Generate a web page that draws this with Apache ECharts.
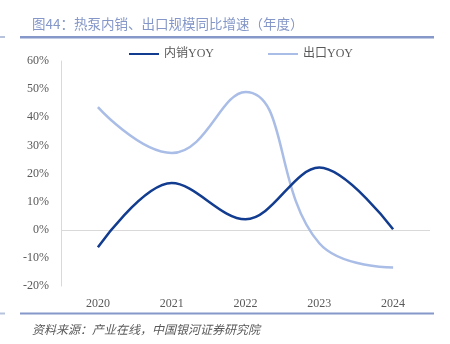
<!DOCTYPE html>
<html>
<head>
<meta charset="utf-8">
<script src="https://cdn.jsdelivr.net/npm/echarts@6/dist/echarts.min.js"></script>
<style>
  html, body { margin: 0; padding: 0; background: #ffffff; }
  #chart { width: 450px; height: 344px; }
</style>
</head>
<body>
<div id="chart"></div>
<script>
// 年度同比增速（%）
const years = ['2020', '2021', '2022', '2023', '2024'];
const domesticYoY = [-6.2, 16.6, 3.7, 22.1, 0.2];
const exportYoY = [43.6, 27.3, 49.0, -4.8, -13.4];
const seriesNames = ['内销YOY', '出口YOY'];
const titleText = '图44：热泵内销、出口规模同比增速（年度）';
const sourceText = '资料来源：产业在线，中国银河证券研究院';

const numFont = '"Liberation Serif", "Noto Sans CJK SC", serif';
const accent = '#8598c9';

const chart = echarts.init(document.getElementById('chart'), null, { renderer: 'canvas' });

chart.setOption({
  animation: false,
  backgroundColor: '#ffffff',
  graphic: [
    { type: 'text', left: 32, top: 17, style: { text: titleText, fill: '#8497c8', font: '13.5px "Noto Sans CJK SC", sans-serif' } },
    { type: 'rect', shape: { x: 20, y: 36, width: 414, height: 2.5 }, style: { fill: accent } },
    { type: 'rect', shape: { x: 0, y: 36, width: 5, height: 2 }, style: { fill: '#b7c2dc' } },
    { type: 'rect', shape: { x: 20, y: 312.5, width: 414, height: 2 }, style: { fill: accent } },
    { type: 'rect', shape: { x: 0, y: 312.5, width: 5, height: 2 }, style: { fill: '#b7c2dc' } },
    { type: 'text', left: 32, top: 323, style: { text: sourceText, fill: '#595959', font: 'italic 12px "Noto Sans CJK SC", sans-serif' } }
  ],
  legend: {
    top: 48,
    left: 129,
    padding: 0,
    itemGap: 54,
    itemWidth: 30,
    itemHeight: 10,
    icon: 'path://M0,4 L30,4 L30,6 L0,6 Z',
    textStyle: { color: '#595959', fontSize: 12, fontFamily: numFont },
    data: seriesNames
  },
  grid: { left: 61, right: 20, top: 61, bottom: 58, containLabel: false },
  xAxis: {
    type: 'category',
    data: years,
    boundaryGap: true,
    axisLine: { show: false, onZero: false },
    axisTick: { show: false },
    axisLabel: { color: '#595959', fontSize: 12, fontFamily: numFont, margin: 12 }
  },
  yAxis: {
    type: 'value',
    min: -20,
    max: 60,
    interval: 10,
    axisLine: { show: true, lineStyle: { color: '#d9d9d9', width: 1 } },
    axisTick: { show: false },
    splitLine: { show: false },
    axisLabel: {
      color: '#595959', fontSize: 12, fontFamily: numFont, margin: 12,
      formatter: v => v + '%'
    }
  },
  series: [
    {
      name: seriesNames[0],
      type: 'line',
      data: domesticYoY,
      smooth: 0.35,
      showSymbol: false,
      lineStyle: { color: '#123c8f', width: 2.5 },
      itemStyle: { color: '#123c8f' },
      z: 3,
      markLine: {
        silent: true,
        symbol: 'none',
        label: { show: false },
        lineStyle: { color: '#d9d9d9', width: 1, type: 'solid' },
        data: [{ yAxis: 0 }],
        z: 1
      }
    },
    {
      name: seriesNames[1],
      type: 'line',
      data: exportYoY,
      smooth: 0.45,
      showSymbol: false,
      lineStyle: { color: '#a9bde6', width: 2.5 },
      itemStyle: { color: '#a9bde6' },
      z: 2
    }
  ]
});
</script>
</body>
</html>
